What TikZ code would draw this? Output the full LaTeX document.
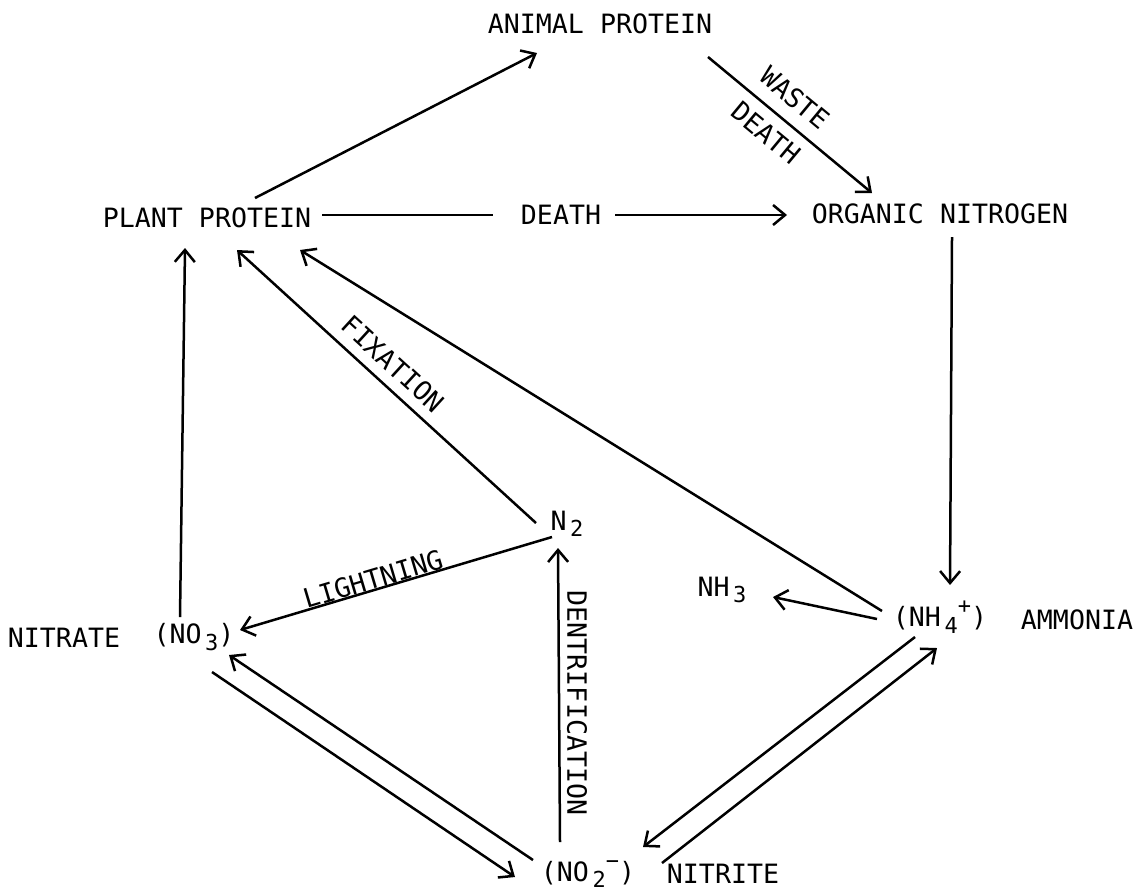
\documentclass[tikz,border=0pt]{standalone}
\usepackage{fontspec}
\setmainfont{DejaVu Sans Mono}
\usetikzlibrary{arrows.meta,calc}
\newcommand\lowsub[1]{\raisebox{-0.45ex}{\fontsize{11}{11}\selectfont\,#1}}
\newcommand\highsup[1]{\raisebox{0.9ex}{\fontsize{11}{11}\selectfont #1}}
\begin{document}
\begin{tikzpicture}[x=0.5pt,y=-0.5pt,
  lbl/.style={inner sep=1pt, font=\fontsize{13.3}{14}\selectfont},
  con/.style={line width=1.25pt},
  arr/.style={con, -{Straight Barb[length=6pt,width=10pt,line width=1.25pt]}}]
\useasboundingbox[fill=white] (0,0) rectangle (1143,891);
% nodes
\node[lbl] (animal) at (600,24) {ANIMAL PROTEIN};
\node[lbl] (plant) at (207,218) {PLANT PROTEIN};
\node[lbl] (death) at (561,215) {DEATH};
\node[lbl] (organic) at (940,214) {ORGANIC NITROGEN};
\node[lbl] (n2) at (567,524) {N\lowsub{2}};
\node[lbl] (nh3) at (722,590) {NH\lowsub{3}};
\node[lbl] (nh4) at (940,617) {(NH\lowsub{4}\highsup{+})};
\node[lbl] (ammonia) at (1077,620) {AMMONIA};
\node[lbl] (nitrate) at (64,638) {NITRATE};
\node[lbl] (no3) at (194,637) {(NO\lowsub{3})};
\node[lbl] (no2) at (588,874) {(NO\lowsub{2}\highsup{−})};
\node[lbl] (nitrite) at (723,874) {NITRITE};
% connectors
\draw[arr] ($(plant)+(48,-20)$) -- ($(animal)+(-63,29)$);
\draw[con] ($(plant)+(115,-3)$) -- ($(death)+(-68,0)$);
\draw[arr] ($(death)+(54,0)$) -- ($(organic)+(-153,1)$);
\draw[arr] ($(animal)+(108,33)$) -- ($(organic)+(-68,-21)$);
\draw[arr] ($(organic)+(12,23)$) -- ($(nh4)+(10,-32)$);
\draw[arr] ($(no3)+(-14,-20)$) -- ($(plant)+(-22,30)$);
\draw[arr] ($(n2)+(-31,-1)$) -- ($(plant)+(30,32)$);
\draw[arr] ($(nh4)+(-58,-6)$) -- ($(plant)+(93,32)$);
\draw[arr] ($(nh4)+(-63,2)$) -- ($(nh3)+(51,7)$);
\draw[arr] ($(n2)+(-15,13)$) -- ($(no3)+(46,-7)$);
\draw[arr] ($(no2)+(-28,-32)$) -- ($(n2)+(-9,24)$);
\draw[arr] ($(no2)+(-55,-14)$) -- ($(no3)+(35,18)$);
\draw[arr] ($(no3)+(18,35)$) -- ($(no2)+(-73,3)$);
\draw[arr] ($(nh4)+(-25,20)$) -- ($(no2)+(55,-27)$);
\draw[arr] ($(no2)+(74,-11)$) -- ($(nh4)+(-3,31)$);
% edge labels
\node[lbl, rotate=-39.7] (waste) at (795,98) {WASTE};
\node[lbl, rotate=-39.7] (death2) at (766,133) {DEATH};
\node[lbl, rotate=-42.4] (fix) at (393,364) {FIXATION};
\node[lbl, rotate=16.6] (light) at (373,579) {LIGHTNING};
\node[lbl, rotate=-90] (dent) at (577,703) {DENTRIFICATION};
\end{tikzpicture}
\end{document}
